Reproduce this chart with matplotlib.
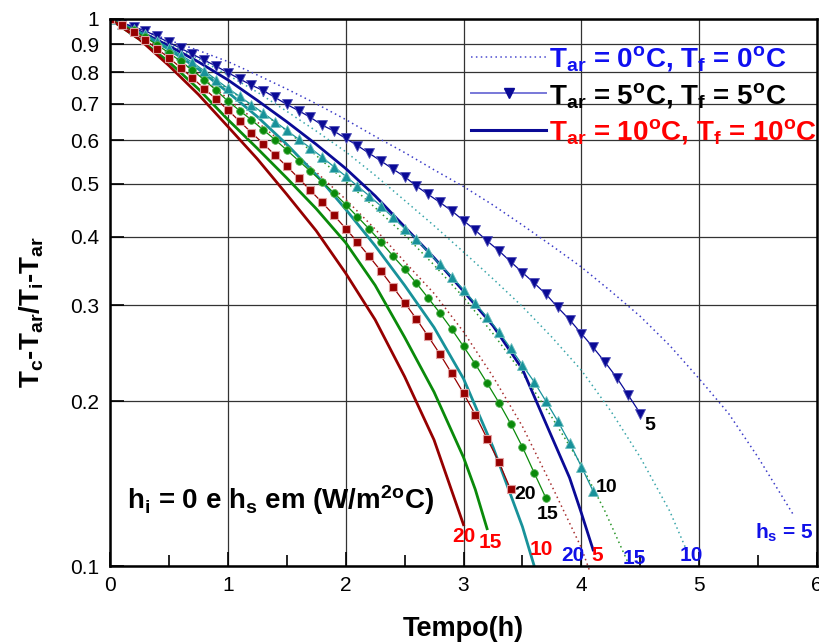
#Importando as bibliotecas
import numpy as np
import matplotlib
matplotlib.use("Agg")
import matplotlib.pyplot as plt
from matplotlib.lines import Line2D

plt.rcParams['font.family'] = ['Liberation Sans', 'DejaVu Sans']
plt.rcParams['mathtext.fontset'] = 'custom'
plt.rcParams['mathtext.rm'] = 'Liberation Sans:bold'
plt.rcParams['mathtext.bf'] = 'Liberation Sans:bold'
plt.rcParams['mathtext.it'] = 'Liberation Sans:bold'
plt.rcParams['mathtext.default'] = 'bf'

#Tar = 5 oC, Tf = 5 oC (curvas com marcadores, um ponto a cada 0.1 h)
t_hs5_tar5 = np.round(np.arange(0, 4.51, 0.1), 1)
y_hs5_tar5 = [1.0, 0.985, 0.968, 0.951, 0.929, 0.906, 0.884, 0.862, 0.841, 0.820,
              0.798, 0.777, 0.757, 0.740, 0.719, 0.698, 0.680, 0.661, 0.640, 0.624,
              0.605, 0.587, 0.568, 0.550, 0.532, 0.515, 0.495, 0.478, 0.462, 0.446,
              0.428, 0.411, 0.393, 0.377, 0.360, 0.344, 0.329, 0.314, 0.297, 0.282,
              0.266, 0.251, 0.236, 0.221, 0.205, 0.190]
t_hs10_tar5 = np.round(np.arange(0, 4.11, 0.1), 1)
y_hs10_tar5 = [1.0, 0.981, 0.960, 0.937, 0.912, 0.886, 0.860, 0.833, 0.804, 0.775,
               0.747, 0.722, 0.697, 0.673, 0.649, 0.626, 0.603, 0.581, 0.559, 0.537,
               0.516, 0.495, 0.475, 0.455, 0.434, 0.414, 0.396, 0.375, 0.356, 0.338,
               0.320, 0.302, 0.285, 0.268, 0.250, 0.233, 0.217, 0.200, 0.184, 0.168,
               0.152, 0.137]
t_hs15_tar5 = np.round(np.arange(0, 3.71, 0.1), 1)
y_hs15_tar5 = [1.0, 0.978, 0.953, 0.926, 0.897, 0.867, 0.837, 0.806, 0.774, 0.741,
               0.708, 0.680, 0.654, 0.627, 0.602, 0.576, 0.551, 0.527, 0.504, 0.481,
               0.458, 0.435, 0.413, 0.391, 0.369, 0.349, 0.329, 0.309, 0.290, 0.271,
               0.252, 0.234, 0.216, 0.199, 0.182, 0.165, 0.148, 0.133]
t_hs20_tar5 = np.round(np.arange(0, 3.41, 0.1), 1)
y_hs20_tar5 = [1.0, 0.975, 0.946, 0.915, 0.882, 0.849, 0.815, 0.780, 0.746, 0.714,
               0.682, 0.650, 0.620, 0.592, 0.564, 0.538, 0.512, 0.486, 0.462, 0.438,
               0.414, 0.391, 0.368, 0.346, 0.324, 0.303, 0.283, 0.263, 0.244, 0.225,
               0.207, 0.189, 0.171, 0.155, 0.138]

#Tar = 10 oC, Tf = 10 oC (linhas cheias)
t_hs5_tar10 = [0, 0.25, 0.5, 0.75, 1, 1.25, 1.5, 1.75, 2, 2.25, 2.5, 2.75, 3, 3.25, 3.5, 3.75, 3.9, 4.0, 4.1]
y_hs5_tar10 = [1.0, 0.95, 0.893, 0.835, 0.774, 0.71, 0.649, 0.59, 0.533, 0.475, 0.417, 0.366, 0.318,
               0.275, 0.229, 0.172, 0.145, 0.125, 0.107]
t_hs10_tar10 = [0, 0.25, 0.5, 0.75, 1, 1.25, 1.5, 1.75, 2, 2.25, 2.5, 2.75, 3, 3.25, 3.5, 3.6]
y_hs10_tar10 = [1.0, 0.945, 0.88, 0.81, 0.735, 0.663, 0.59, 0.519, 0.449, 0.385, 0.326, 0.273, 0.22,
                0.165, 0.118, 0.1]
t_hs15_tar10 = [0, 0.25, 0.5, 0.75, 1, 1.25, 1.5, 1.75, 2, 2.25, 2.5, 2.75, 3, 3.1, 3.2]
y_hs15_tar10 = [1.0, 0.918, 0.835, 0.745, 0.655, 0.58, 0.512, 0.45, 0.39, 0.326, 0.262, 0.208, 0.158,
                0.138, 0.117]
t_hs20_tar10 = [0, 0.25, 0.5, 0.75, 1, 1.25, 1.5, 1.75, 2, 2.25, 2.5, 2.75, 3]
y_hs20_tar10 = [1.0, 0.918, 0.822, 0.728, 0.636, 0.555, 0.478, 0.41, 0.343, 0.282, 0.222, 0.17, 0.119]

#Tar = 0 oC, Tf = 0 oC (linhas pontilhadas)
t_hs5_tar0 = [0, 0.25, 0.5, 0.75, 1, 1.25, 1.5, 1.75, 2, 2.25, 2.5, 2.75, 3, 3.25, 3.5, 3.75, 4,
              4.25, 4.5, 4.75, 5, 5.25, 5.5, 5.8]
y_hs5_tar0 = [1.0, 0.958, 0.915, 0.876, 0.836, 0.79, 0.745, 0.70, 0.655, 0.61, 0.57, 0.53, 0.494,
              0.457, 0.42, 0.385, 0.352, 0.318, 0.286, 0.253, 0.22, 0.19, 0.158, 0.124]
t_hs10_tar0 = [0, 0.25, 0.5, 0.75, 1, 1.25, 1.5, 1.75, 2, 2.25, 2.5, 2.75, 3, 3.25, 3.5, 3.75, 4,
               4.25, 4.5, 4.75, 4.9]
y_hs10_tar0 = [1.0, 0.952, 0.9, 0.846, 0.79, 0.735, 0.678, 0.624, 0.572, 0.518, 0.466, 0.419, 0.375,
               0.335, 0.298, 0.262, 0.228, 0.192, 0.158, 0.126, 0.106]
t_hs15_tar0 = [0, 0.25, 0.5, 0.75, 1, 1.25, 1.5, 1.75, 2, 2.25, 2.5, 2.75, 3, 3.25, 3.5, 3.75, 4, 4.2, 4.4]
y_hs15_tar0 = [1.0, 0.942, 0.88, 0.813, 0.745, 0.684, 0.625, 0.563, 0.505, 0.452, 0.403, 0.355, 0.31,
               0.266, 0.225, 0.187, 0.153, 0.126, 0.101]
t_hs20_tar0 = [0, 0.25, 0.5, 0.75, 1, 1.25, 1.5, 1.75, 2, 2.25, 2.5, 2.75, 3, 3.25, 3.5, 3.75, 4, 4.07]
y_hs20_tar0 = [1.0, 0.935, 0.865, 0.792, 0.715, 0.648, 0.585, 0.525, 0.468, 0.413, 0.36, 0.315, 0.268,
               0.222, 0.18, 0.14, 0.108, 0.098]

#Rotulos das curvas
rot_tar5 = [("5", 4.584, 0.181), ("10", 4.21, 0.1394), ("20", 3.523, 0.1349), ("15", 3.71, 0.124)]
rot_tar10 = [("20", 3.005, 0.113), ("15", 3.226, 0.1106), ("10", 3.659, 0.107), ("5", 4.134, 0.1047)]
rot_tar0 = [("20", 3.93, 0.1047), ("15", 4.448, 0.1034), ("10", 4.932, 0.1047), (r"h$_{s}$ = 5", 5.72, 0.1149)]

legenda = [r"T$_{ar}$ = 0$^{o}$C, T$_{f}$ = 0$^{o}$C",
           r"T$_{ar}$ = 5$^{o}$C, T$_{f}$ = 5$^{o}$C",
           r"T$_{ar}$ = 10$^{o}$C, T$_{f}$ = 10$^{o}$C"]

azul = "#0a0a96"
ciano = "#18929a"
verde = "#0a8a0a"
vinho = "#960000"
pontilhado = (0, (1, 2.2))

fig = plt.figure(figsize=(8.19, 6.44), dpi=100)
ax = fig.add_axes([0.1343, 0.1211, 0.8633, 0.8494])

#Linhas pontilhadas
ax.plot(t_hs5_tar0, y_hs5_tar0, color="#3c3cc8", lw=1.1, ls=pontilhado, clip_on=False)
ax.plot(t_hs10_tar0, y_hs10_tar0, color="#3aa6aa", lw=1.1, ls=pontilhado, clip_on=False)
ax.plot(t_hs15_tar0, y_hs15_tar0, color="#2a962a", lw=1.1, ls=pontilhado, clip_on=False)
ax.plot(t_hs20_tar0, y_hs20_tar0, color="#a83030", lw=1.1, ls=pontilhado, clip_on=False)

#Linhas cheias
ax.plot(t_hs5_tar10, y_hs5_tar10, color=azul, lw=2.0)
ax.plot(t_hs10_tar10, y_hs10_tar10, color=ciano, lw=2.0)
ax.plot(t_hs15_tar10, y_hs15_tar10, color=verde, lw=2.0)
ax.plot(t_hs20_tar10, y_hs20_tar10, color=vinho, lw=2.0)

#Linhas com marcadores
ax.plot(t_hs5_tar5, y_hs5_tar5, color=azul, lw=0.9, marker="v", ms=7, mec="#5050b8", mew=0.6)
ax.plot(t_hs10_tar5, y_hs10_tar5, color=ciano, lw=0.9, marker="^", ms=7, mec="#70c0c0", mew=0.6)
ax.plot(t_hs15_tar5, y_hs15_tar5, color=verde, lw=0.9, marker="o", ms=5.5, mec="#50b050", mew=0.6)
ax.plot(t_hs20_tar5, y_hs20_tar5, color=vinho, lw=0.9, marker="s", ms=5.5, mec="#e0a0a0", mew=0.8)

#Eixos
ax.set_yscale("log")
ax.set_xlim(0, 6)
ax.set_ylim(0.1, 1)
yt = [0.1, 0.2, 0.3, 0.4, 0.5, 0.6, 0.7, 0.8, 0.9, 1]
ax.set_yticks(yt)
ax.set_yticklabels(["0.1", "0.2", "0.3", "0.4", "0.5", "0.6", "0.7", "0.8", "0.9", "1"])
ax.yaxis.set_minor_locator(plt.NullLocator())
ax.set_xticks([0, 1, 2, 3, 4, 5, 6])
ax.set_xticks([0.5, 1.5, 2.5, 3.5, 4.5, 5.5], minor=True)
ax.tick_params(axis="both", which="major", direction="in", labelsize=15, length=10, width=1.2, pad=7)
ax.tick_params(axis="y", which="major", pad=8)
ax.tick_params(axis="x", which="minor", direction="in", length=8, width=1.2)
ax.grid(True, which="major", color="#333333", lw=0.9)
for s in ax.spines.values():
    s.set_linewidth(1.8)

ax.set_xlabel("Tempo(h)", fontsize=19.5, fontweight="bold", labelpad=15)
ax.set_ylabel(r"T$_{c}$-T$_{ar}$/T$_{i}$-T$_{ar}$", fontsize=20, fontweight="bold")
ax.yaxis.set_label_coords(-0.09, 0.465)

#Textos
ax.text(0.144, 0.132, r"h$_{i}$ = 0 e h$_{s}$ em (W/m$^{2o}$C)", fontsize=20, fontweight="bold",
        ha="left", va="center")
for txt, x, y in rot_tar5:
    ax.text(x, y, txt, fontsize=14, fontweight="bold", color="black", ha="center", va="center")
for txt, x, y in rot_tar10:
    ax.text(x, y, txt, fontsize=15, fontweight="bold", color="red", ha="center", va="center",
            clip_on=False)
for txt, x, y in rot_tar0:
    ax.text(x, y, txt, fontsize=15, fontweight="bold", color="#1010e8", ha="center", va="center",
            clip_on=False)

#Legenda
h1 = Line2D([], [], color="#4a4ad0", lw=1.1, ls=pontilhado)
h2 = Line2D([], [], color="#7878d8", lw=1.4, marker="v", ms=7, mfc=azul, mec=azul)
h3 = Line2D([], [], color=azul, lw=2.2)
leg = ax.legend([h1, h2, h3], legenda, loc="upper right", bbox_to_anchor=(1.016, 0.975), frameon=False,
                prop={"weight": "bold", "size": 20}, handlelength=2.7, handletextpad=0.1,
                labelspacing=0.28, numpoints=1, borderaxespad=0)
for txt, cor in zip(leg.get_texts(), ["#1010f0", "black", "#ff0000"]):
    txt.set_color(cor)

plt.savefig("out.png", dpi=100)
